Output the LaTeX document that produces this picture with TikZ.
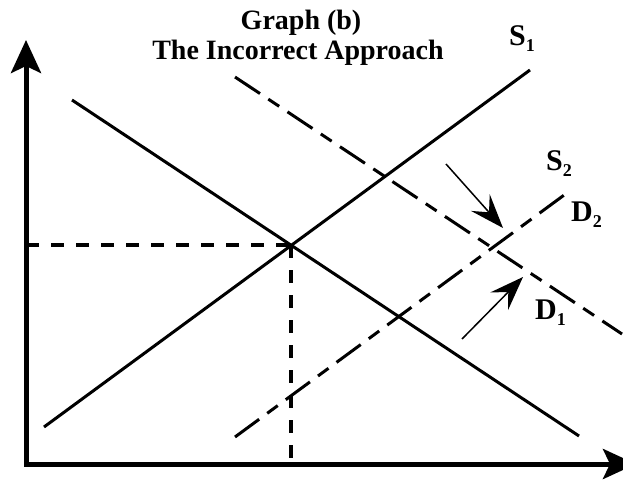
\documentclass[tikz,border=0pt]{standalone}
\usepackage{fontspec}
\setmainfont{Liberation Serif}
\usetikzlibrary{arrows.meta}
\newcommand{\sublbl}[2]{#1\raisebox{-6pt}{\fontsize{18}{18}\selectfont #2}}
\begin{document}
\begin{tikzpicture}[x=1pt,y=-1pt,
  axis/.style={line width=5pt,line join=miter,{Stealth[length=33pt,width=30pt,inset=7pt]}-{Stealth[length=33pt,width=30pt,inset=7pt]}},
  curve/.style={line width=3pt},
  shifted/.style={line width=3pt,dash pattern=on 30pt off 10pt on 13pt off 10pt},
  guide/.style={line width=4pt,dash pattern=on 13pt off 12pt},
  shiftarrow/.style={line width=1.5pt,-{Stealth[length=34pt,width=25pt,inset=13pt]}},
  lbl/.style={font=\bfseries\fontsize{30}{30}\selectfont,inner sep=0pt,anchor=base west},
  ttl/.style={font=\bfseries\fontsize{28}{30}\selectfont,inner sep=0pt,anchor=base}]
\useasboundingbox (0,0) rectangle (623,481);
% coordinates
\coordinate (O) at (26,464);
\coordinate (ytop) at (26,40);
\coordinate (xend) at (636,464);
\coordinate (E) at (291,245);
\coordinate (d1a) at (72,100);
\coordinate (d1b) at (579,436);
\coordinate (s1a) at (44,427);
\coordinate (s1b) at (530,70);
\coordinate (d2a) at (235,77);
\coordinate (d2b) at (622,334);
\coordinate (s2a) at (235,437);
\coordinate (s2b) at (571,190);
\coordinate (a1s) at (446,164);
\coordinate (a1e) at (503,228);
\coordinate (a2s) at (462,339);
\coordinate (a2e) at (523,277);
% guides
\draw[guide] (O |- E) -- (E);
\draw[guide] (E) -- (E |- O);
% curves
\draw[curve] (d1a) -- (d1b);
\draw[curve] (s1a) -- (s1b);
\draw[shifted] (d2a) -- (d2b);
\draw[shifted] (s2a) -- (s2b);
% shift arrows
\draw[shiftarrow] (a1s) -- (a1e);
\draw[shiftarrow] (a2s) -- (a2e);
% axes
\draw[axis] (ytop) -- (O) -- (xend);
% labels
\node[ttl] (t1) at (301,30) {Graph (b)};
\node[ttl] (t2) at (298,60) {The Incorrect Approach};
\node[lbl] (ls1) at (509,46) {\sublbl{S}{1}};
\node[lbl] (ls2) at (546,171) {\sublbl{S}{2}};
\node[lbl] (ld2) at (571,221) {\sublbl{D}{2}};
\node[lbl] (ld1) at (535,319) {\sublbl{D}{1}};
\end{tikzpicture}
\end{document}
